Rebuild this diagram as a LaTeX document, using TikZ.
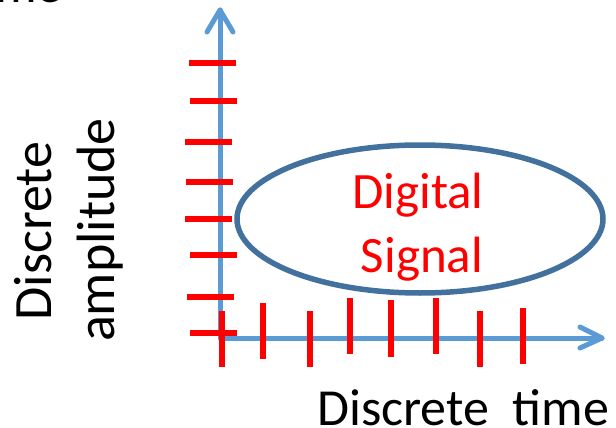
\documentclass[tikz,border=0pt]{standalone}
\usepackage{fontspec}
\setmainfont{Carlito}
\usetikzlibrary{shapes.geometric}
\definecolor{axisblue}{HTML}{5B9BD5}
\definecolor{ringblue}{HTML}{41719C}
\definecolor{tickred}{HTML}{FF0000}
\tikzset{
  axisline/.style={draw=axisblue, line width=5pt, line cap=round, line join=round},
  tickmark/.style={draw=tickred, line width=5.5pt},
  label/.style={inner sep=0pt, font=\fontsize{52}{60}\selectfont},
  sidelabel/.style={inner sep=0pt, font=\fontsize{54}{60}\selectfont},
  redlabel/.style={inner sep=0pt, text=tickred, font=\fontsize{51}{60}\selectfont},
}
\begin{document}
\begin{tikzpicture}[x=1pt, y=-1pt]
\useasboundingbox (0,0) rectangle (616,428);
\clip (0,0) rectangle (616,428);

% partly visible caption at the top edge
\node[label, anchor=base east] (toptime) at (63,3) {time};

% axes
\coordinate (origin) at (220,338);
\coordinate (ytip) at (220,10);
\coordinate (xtip) at (602,338);
\draw[axisline] (ytip) -- (origin) -- (xtip);
\draw[axisline] (207,32) -- (ytip) -- (233,32);
\draw[axisline] (580,327) -- (xtip) -- (580,348);

% amplitude levels
\draw[tickmark] (189,63) -- (236,63);
\draw[tickmark] (190,101) -- (237,101);
\draw[tickmark] (185,142) -- (232,142);
\draw[tickmark] (186,182) -- (233,182);
\draw[tickmark] (185,219) -- (232,219);
\draw[tickmark] (190,255) -- (237,255);
\draw[tickmark] (187,297) -- (234,297);
\draw[tickmark] (190,333) -- (237,333);

% sampling instants
\draw[tickmark] (222,311) -- (222,367);
\draw[tickmark] (263,303) -- (263,359);
\draw[tickmark] (310,311) -- (310,367);
\draw[tickmark] (350,298) -- (350,354);
\draw[tickmark] (391,300) -- (391,357);
\draw[tickmark] (436,298) -- (436,354);
\draw[tickmark] (480,311) -- (480,367);
\draw[tickmark] (523,308) -- (523,364);

% the signal region
\node[ellipse, draw=ringblue, line width=5.5pt, minimum width=366pt, minimum height=148pt, inner sep=0pt] (sig) at (420,219) {};
\node[redlabel, anchor=base] (digital) at (418,208) {Digital};
\node[redlabel, anchor=base] (signal) at (422,272) {Signal};

% axis captions
\node[sidelabel, anchor=base, rotate=90] (disc) at (51,231) {Discrete};
\node[sidelabel, anchor=base, rotate=90] (ampl) at (114,230) {amplitude};
\node[label, anchor=base west] (xcap) at (317,425) {Discrete\ \ time};
\end{tikzpicture}
\end{document}
